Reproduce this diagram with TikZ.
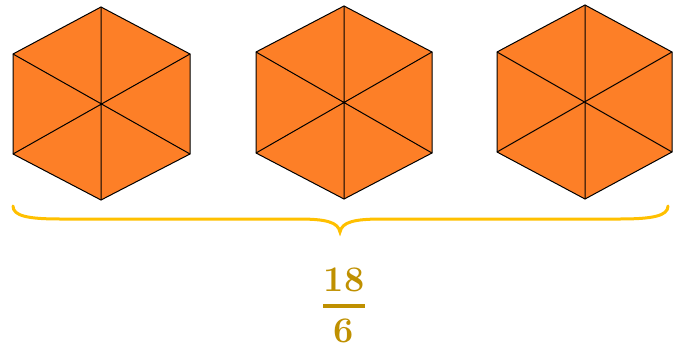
\documentclass[tikz,border=0pt]{standalone}
\definecolor{hexfill}{RGB}{253,127,39}
\definecolor{bracecol}{RGB}{255,192,0}
\definecolor{fraccol}{RGB}{191,144,0}
\tikzset{
  hexface/.style={fill=hexfill,draw=black,line width=1pt,line join=miter},
  hexline/.style={draw=black,line width=1pt},
  bracestyle/.style={draw=bracecol,line width=3pt,line cap=round},
  fractext/.style={text=fraccol,font=\fontsize{36}{36}\bfseries\selectfont,inner sep=0pt,anchor=center},
}
\newcommand{\myhex}[9]{%
  % #1 cx, #2 top y, #3 left x, #4 right x, #5 upper y, #6 lower y, #7 bottom y, #8 cy, #9 name
  \coordinate (#9t) at (#1,#2);
  \coordinate (#9ur) at (#4,#5);
  \coordinate (#9lr) at (#4,#6);
  \coordinate (#9b) at (#1,#7);
  \coordinate (#9ll) at (#3,#6);
  \coordinate (#9ul) at (#3,#5);
  \path[hexface] (#9t) -- (#9ur) -- (#9lr) -- (#9b) -- (#9ll) -- (#9ul) -- cycle;
  \draw[hexline] (#9t) -- (#9b) (#9ul) -- (#9lr) (#9ur) -- (#9ll);
}
\begin{document}
\begin{tikzpicture}[x=1pt,y=-1pt]
\useasboundingbox (0,0) rectangle (680,361);
\myhex{101}{7}{13}{190}{54}{154}{200}{104}{a}
\myhex{344}{6}{256}{432}{52}{153}{199}{104}{b}
\myhex{585}{5}{497}{672}{52}{152}{199}{104}{c}
\coordinate (bl) at (13,206);
\coordinate (br) at (668,206);
\coordinate (btip) at (340,232);
\draw[bracestyle] (bl) .. controls (13,216) and (28,219) .. (60,219) -- (298,219)
  .. controls (326,219) and (338,222) .. (btip)
  .. controls (342,222) and (354,219) .. (382,219) -- (620,219)
  .. controls (652,219) and (668,216) .. (br);
\node[fractext] (num) at (344,280) {18};
\node[fractext] (den) at (344,331) {6};
\coordinate (barl) at (323,306);
\coordinate (barr) at (365,306);
\draw[draw=fraccol,line width=3.5pt] (barl) -- (barr);
\end{tikzpicture}
\end{document}
